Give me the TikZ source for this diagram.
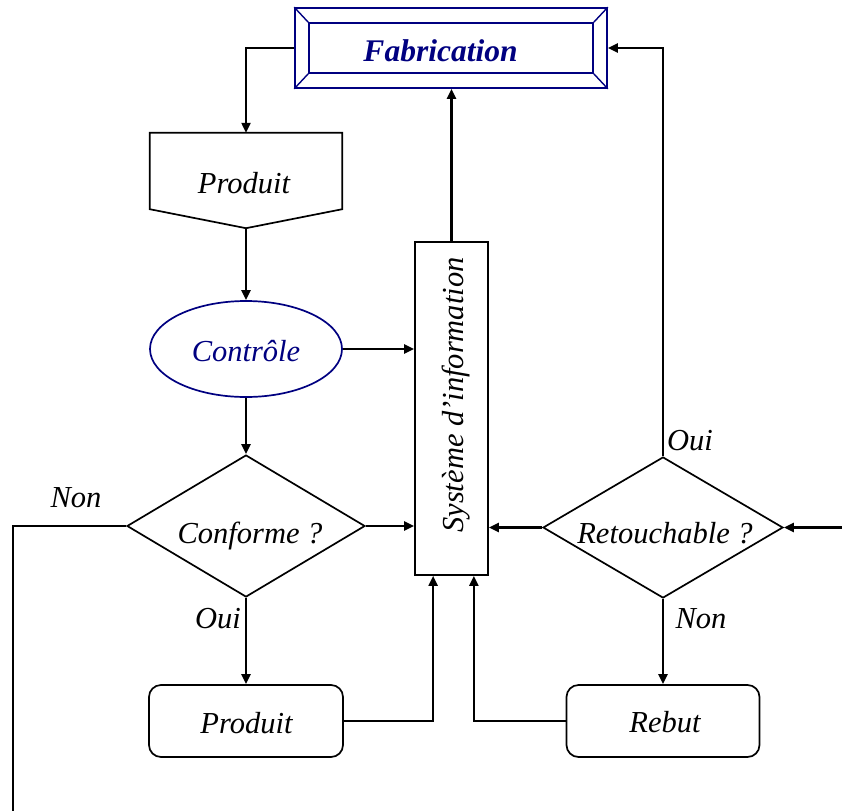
\documentclass[tikz,border=0pt]{standalone}
\usepackage{fontspec}
\setmainfont{Liberation Serif}
\usetikzlibrary{shapes.geometric,arrows.meta,calc}
\definecolor{navy}{RGB}{0,0,128}
\begin{document}
\begin{tikzpicture}[x=1pt,y=-1pt,
  txt/.style={font=\fontsize{30.5}{36}\selectfont\itshape, inner sep=0pt, anchor=base},
  shp/.style={draw, line width=1.7pt, inner sep=0pt},
  conn/.style={line width=2.2pt, -{Triangle[length=10pt,width=9pt]}},
  wire/.style={line width=2.2pt}]
\path[use as bounding box] (0,0) rectangle (842,811);

% Fabrication: bevelled frame
\node[shp, draw=navy, minimum width=312pt, minimum height=80pt] (fab) at (451,48) {};
\node[shp, draw=navy, minimum width=284pt, minimum height=50pt] (fabin) at (451,48) {};
\draw[navy, line width=1.4pt] (fab.north west) -- (fabin.north west)
  (fab.north east) -- (fabin.north east)
  (fab.south west) -- (fabin.south west)
  (fab.south east) -- (fabin.south east);
\node[txt, font=\fontsize{31.5}{36}\selectfont\bfseries\itshape, text=navy] (fabtxt) at (440.5,61.5) {Fabrication};

% Produit (pointed box)
\node[minimum width=192pt, minimum height=76pt, inner sep=0pt] (prod1) at (246,171) {};
\coordinate (prod1tip) at ($(prod1.south)+(0,19)$);
\draw[line width=1.7pt] (prod1.north west) -- (prod1.north east) -- (prod1.south east)
  -- (prod1tip) -- (prod1.south west) -- cycle;
\node[txt] (prod1txt) at (244,193.5) {Produit};

% Controle
\node[shp, ellipse, draw=navy, minimum width=192pt, minimum height=96pt] (ctrl) at (246,349) {};
\node[txt, text=navy] (ctrltxt) at (246,361) {Contrôle};

% Systeme d'information
\node[shp, minimum width=73pt, minimum height=333pt] (sys) at (451.5,408.5) {};
\node[txt, rotate=90] (systxt) at (463,395) {Système d’information};
\coordinate (sysinL) at ($(sys.south west)+(19,0)$);
\coordinate (sysinR) at ($(sys.south east)+(-15,0)$);

% Decisions
\node[shp, diamond, minimum width=238pt, minimum height=142pt] (conf) at (246,526) {};
\node[txt] (conftxt) at (250,543) {Conforme ?};
\node[shp, diamond, minimum width=240pt, minimum height=141pt] (ret) at (663,527.5) {};
\node[txt] (rettxt) at (665,543) {Retouchable ?};

% Outcomes
\node[shp, rounded corners=12pt, minimum width=194pt, minimum height=72pt] (prod2) at (246,721) {};
\node[txt] (prod2txt) at (246.5,733) {Produit};
\node[shp, rounded corners=12pt, minimum width=193pt, minimum height=72pt] (rebut) at (663,721) {};
\node[txt] (rebuttxt) at (665,732) {Rebut};

% Branch labels
\node[txt] (non1) at (76,507) {Non};
\node[txt] (oui1) at (218,628) {Oui};
\node[txt] (oui2) at (690,450) {Oui};
\node[txt] (non2) at (701,628) {Non};

% Connectors
\coordinate (nonturn) at (13,526);
\coordinate (nonend) at (13,811);
\coordinate (rightin) at (842,527.5);
\draw[conn] (fab.west) -| (prod1.north);
\draw[conn] (prod1tip) -- (ctrl.north);
\draw[conn] (ctrl.east) -- (sys.west|-ctrl.east);
\draw[conn] (ctrl.south) -- (conf.north);
\draw[conn] (conf.east) -- (sys.west|-conf.east);
\draw[conn] (conf.south) -- (prod2.north);
\draw[wire] (conf.west) -- (nonturn) -- (nonend);
\draw[conn] (prod2.east) -| (sysinL);
\draw[conn] (rebut.west) -| (sysinR);
\draw[conn] (sys.north) -- (sys.north|-fab.south);
\draw[conn] (ret.north) |- (fab.east);
\draw[conn] (ret.west) -- (sys.east|-ret.west);
\draw[conn] (rightin) -- (ret.east);
\draw[conn] (ret.south) -- (rebut.north);
\end{tikzpicture}
\end{document}
